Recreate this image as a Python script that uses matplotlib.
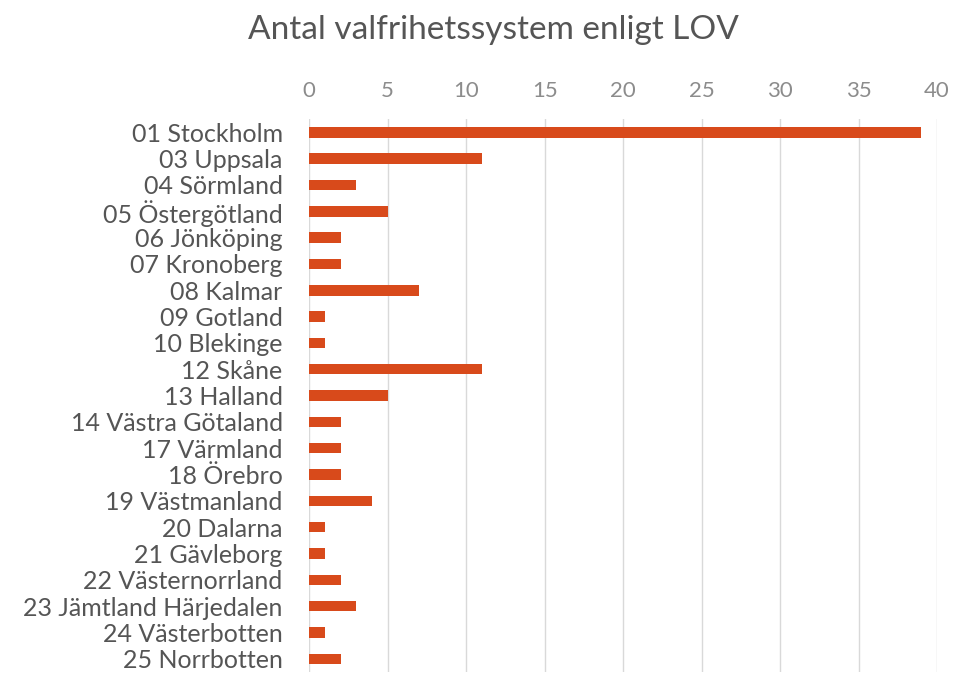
import matplotlib.pyplot as plt

lan = [
    "01 Stockholm", "03 Uppsala", "04 Sörmland", "05 Östergötland",
    "06 Jönköping", "07 Kronoberg", "08 Kalmar", "09 Gotland",
    "10 Blekinge", "12 Skåne", "13 Halland", "14 Västra Götaland",
    "17 Värmland", "18 Örebro", "19 Västmanland", "20 Dalarna",
    "21 Gävleborg", "22 Västernorrland", "23 Jämtland Härjedalen",
    "24 Västerbotten", "25 Norrbotten",
]
antal = [39, 11, 3, 5, 2, 2, 7, 1, 1, 11, 5, 2, 2, 2, 4, 1, 1, 2, 3, 1, 2]
xticks = [0, 5, 10, 15, 20, 25, 30, 35, 40]

plt.rcParams["font.family"] = ["Lato", "DejaVu Sans"]

fig = plt.figure(figsize=(9.66, 6.73), dpi=100)
ax = fig.add_axes([0.32, 0.0015, 0.65, 0.8215])

y = list(range(len(lan)))
ax.barh(y, antal, height=0.4, color="#d84a1b", zorder=3)

ax.set_xlim(0, 40)
ax.set_ylim(len(lan) - 0.5, -0.5)
ax.set_yticks(y)
ax.set_yticklabels(lan, fontsize=18, color="#555555")
ax.set_xticks(xticks)
ax.set_xticklabels([str(t) for t in xticks], fontsize=16, color="#8c8c8c")
ax.xaxis.tick_top()
ax.tick_params(axis="both", length=0)
ax.tick_params(axis="x", pad=13)
ax.tick_params(axis="y", pad=19)

ax.grid(axis="x", color="#d9d9d9", linewidth=1, zorder=0)
for s in ax.spines.values():
    s.set_visible(False)

fig.text(0.511, 0.955, "Antal valfrihetssystem enligt LOV", ha="center",
         va="center", fontsize=24, color="#555555")

fig.savefig("out.png", dpi=100)
